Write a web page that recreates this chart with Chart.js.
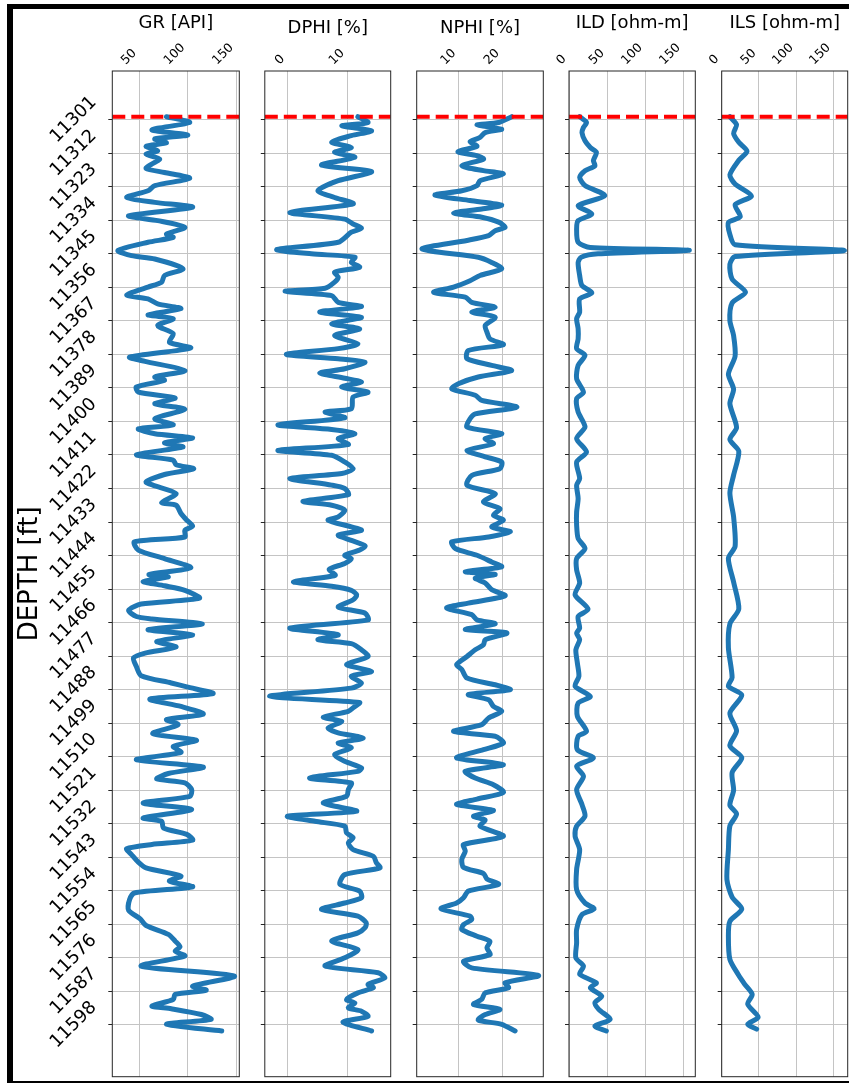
<!DOCTYPE html>
<html>
<head>
<meta charset="utf-8">
<script src="https://cdn.jsdelivr.net/npm/chart.js@4.4.1/dist/chart.umd.min.js"></script>
<style>
  html, body { margin: 0; padding: 0; background: #fff; }
  body { width: 849px; height: 1084px; position: relative; overflow: hidden; }
  #frame { position: absolute; left: 7px; top: 4px; width: 900px; height: 1072px;
           border-left: 6px solid #000; border-top: 5px solid #000; border-bottom: 2px solid #000; }
  canvas.track { position: absolute; left: 0; top: 0; }
</style>
</head>
<body>
<div id="frame"></div>
<canvas id="gr" class="track" width="849" height="1084"></canvas>
<canvas id="dphi" class="track" width="849" height="1084"></canvas>
<canvas id="nphi" class="track" width="849" height="1084"></canvas>
<canvas id="ild" class="track" width="849" height="1084"></canvas>
<canvas id="ils" class="track" width="849" height="1084"></canvas>
<script>
// ---- data ----
const trackTitles = ['GR [API]', 'DPHI [%]', 'NPHI [%]', 'ILD [ohm-m]', 'ILS [ohm-m]'];
const depthTitle = 'DEPTH [ft]';
const depthTicks = [11301, 11312, 11323, 11334, 11345, 11356, 11367, 11378, 11389, 11400,
  11411, 11422, 11433, 11444, 11455, 11466, 11477, 11488, 11499, 11510, 11521, 11532,
  11543, 11554, 11565, 11576, 11587, 11598];
const markerDepth = 11300;

const grTicks = [50, 100, 150];
const dphiTicks = [0, 10];
const nphiTicks = [10, 20];
const ildTicks = [0, 50, 100, 150];
const ilsTicks = [0, 50, 100, 150];

const grDepth = [11300.0, 11301.9, 11304.3, 11306.0, 11307.3, 11308.6, 11309.7, 11311.2, 11312.3, 11313.9,
  11315.5, 11317.0, 11318.3, 11320.2, 11322.6, 11324.3, 11326.5, 11328.1, 11329.7, 11332.5,
  11334.1, 11336.3, 11338.5, 11339.6, 11341.2, 11343.9, 11345.6, 11346.7, 11349.9, 11352.1,
  11354.3, 11355.9, 11358.5, 11359.8, 11361.4, 11363.0, 11365.0, 11366.3, 11368.5, 11371.2,
  11374.0, 11375.9, 11378.9, 11380.3, 11383.3, 11385.4, 11386.5, 11388.7, 11390.4, 11392.3,
  11394.2, 11396.0, 11399.1, 11401.1, 11402.4, 11404.0, 11405.4, 11407.0, 11408.4, 11410.9,
  11412.7, 11414.2, 11415.5, 11417.4, 11419.8, 11420.9, 11423.7, 11426.6, 11427.5, 11430.2,
  11432.4, 11434.3, 11435.7, 11437.9, 11439.5, 11442.2, 11445.0, 11448.0, 11450.2, 11451.0,
  11452.5, 11453.9, 11455.4, 11458.0, 11459.9, 11462.0, 11464.0, 11464.8, 11466.5, 11468.3,
  11470.0, 11472.2, 11474.0, 11476.0, 11477.6, 11480.4, 11483.4, 11485.8, 11487.1, 11489.3,
  11491.1, 11493.5, 11496.0, 11497.8, 11499.5, 11502.4, 11504.6, 11506.6, 11508.6, 11511.0,
  11513.4, 11515.5, 11517.3, 11518.6, 11520.8, 11523.0, 11525.2, 11527.3, 11530.1, 11531.2,
  11533.4, 11535.5, 11537.4, 11538.8, 11540.2, 11542.1, 11544.6, 11546.5, 11549.2, 11550.8,
  11552.7, 11554.7, 11556.9, 11560.4, 11563.2, 11565.4, 11568.3, 11570.5, 11572.4, 11573.8,
  11575.4, 11578.7, 11582.0, 11585.3, 11586.6, 11588.0, 11589.7, 11591.8, 11592.7, 11594.6,
  11596.2, 11597.8, 11600.0];
const grValues = [78, 102, 63, 100, 66, 78, 57, 69, 57, 71,
  63, 57, 76, 102, 66, 59, 37, 66, 105, 39,
  69, 97, 78, 85, 59, 28, 42, 66, 95, 76,
  73, 59, 37, 59, 69, 93, 59, 85, 69, 85,
  81, 103, 40, 56, 97, 66, 76, 47, 49, 87,
  66, 97, 66, 85, 49, 66, 105, 76, 95, 47,
  85, 88, 106, 76, 57, 64, 88, 73, 88, 93,
  99, 105, 97, 97, 45, 49, 76, 103, 60, 80,
  54, 76, 97, 112, 52, 39, 47, 63, 115, 59,
  105, 68, 88, 56, 44, 47, 52, 83, 99, 126,
  61, 93, 116, 78, 90, 64, 109, 85, 93, 47,
  116, 80, 68, 97, 104, 102, 54, 104, 54, 73,
  75, 99, 105, 63, 37, 42, 49, 57, 93, 81,
  105, 45, 40, 39, 51, 57, 80, 87, 92, 87,
  97, 52, 148, 105, 119, 87, 85, 63, 83, 114,
  124, 78, 135];

const dphiDepth = [11300.0, 11301.9, 11303.0, 11304.6, 11306.2, 11308.4, 11310.1, 11311.7, 11313.3, 11315.9,
  11318.0, 11321.0, 11324.3, 11326.5, 11328.6, 11331.4, 11333.6, 11335.2, 11336.6, 11337.9,
  11341.2, 11343.6, 11345.0, 11346.1, 11347.8, 11349.4, 11351.0, 11352.7, 11354.3, 11356.3,
  11357.3, 11358.7, 11360.9, 11362.3, 11364.1, 11365.8, 11368.0, 11369.6, 11371.8, 11374.5,
  11376.1, 11378.0, 11379.4, 11380.5, 11382.7, 11384.1, 11385.8, 11387.1, 11388.7, 11390.4,
  11392.0, 11395.8, 11396.9, 11398.8, 11401.1, 11402.6, 11404.0, 11405.6, 11407.6, 11409.5,
  11411.1, 11413.3, 11415.5, 11417.1, 11418.7, 11420.9, 11422.0, 11424.0, 11426.2, 11427.5,
  11429.1, 11431.3, 11432.4, 11434.6, 11435.7, 11437.3, 11439.0, 11440.8, 11442.2, 11443.9,
  11445.0, 11446.6, 11448.5, 11450.5, 11452.6, 11454.1, 11455.4, 11456.9, 11458.5, 11460.9,
  11462.9, 11465.1, 11467.8, 11470.0, 11471.6, 11472.9, 11474.9, 11477.1, 11479.8, 11482.0,
  11483.6, 11485.8, 11487.5, 11490.2, 11492.2, 11493.5, 11495.1, 11497.0, 11498.4, 11500.6,
  11502.2, 11503.9, 11505.5, 11507.1, 11509.3, 11511.5, 11513.7, 11514.8, 11517.0, 11518.6,
  11520.8, 11523.0, 11525.2, 11527.9, 11529.5, 11531.2, 11532.8, 11535.0, 11536.6, 11538.3,
  11540.5, 11542.7, 11544.8, 11546.5, 11548.7, 11551.9, 11554.1, 11556.3, 11558.0, 11560.1,
  11562.3, 11564.5, 11566.1, 11567.8, 11570.5, 11573.3, 11576.0, 11578.7, 11580.9, 11582.6,
  11584.7, 11585.8, 11587.5, 11589.7, 11590.8, 11592.4, 11593.5, 11595.2, 11597.1, 11600.0];
const dphiValues = [11.8, 13.5, 9.1, 14.1, 10.7, 7.4, 10.7, 7.9, 11.3, 5.7,
  14.1, 8.5, 5.1, 7.9, 11.0, 0.4, 9.6, 11.0, 12.4, 10.7,
  8.5, -1.8, 4.0, 11.3, 10.7, 12.1, 7.9, 8.5, 7.9, 6.3,
  -0.4, 7.4, 8.5, 12.4, 5.4, 12.4, 7.4, 12.1, 7.9, 11.8,
  8.5, -0.2, 8.5, 13.0, 9.6, 5.4, 9.6, 12.4, 9.1, 13.5,
  11.0, 10.7, 6.3, 9.6, -1.6, 7.4, 11.3, 8.5, 10.2, -1.6,
  7.4, 9.6, 11.0, 9.1, 0.4, 7.4, 9.6, 10.2, 2.6, 7.4,
  9.6, 8.5, 6.8, 10.7, 12.4, 8.5, 10.7, 13.0, 12.1, 9.6,
  10.7, 9.6, 7.0, 8.0, 1.0, 7.4, 10.7, 11.6, 11.0, 8.5,
  13.0, 13.5, 0.4, 8.5, 5.1, 10.7, 12.4, 13.5, 9.9, 14.1,
  10.7, 12.4, 10.7, -3.0, 12.1, 11.3, 10.2, 6.0, 9.1, 6.8,
  8.5, 12.7, 8.5, 10.7, 7.9, 9.6, 12.4, 11.8, 3.7, 10.7,
  10.2, 9.9, 6.0, 11.6, 0.0, 4.6, 9.6, 9.9, 11.0, 10.2,
  11.0, 14.4, 14.9, 15.5, 9.6, 8.8, 12.1, 12.4, 9.6, 5.7,
  11.8, 13.2, 13.0, 11.8, 7.4, 11.8, 9.6, 6.3, 15.2, 16.3,
  13.5, 14.4, 11.8, 9.9, 11.3, 10.2, 12.4, 13.5, 9.3, 14.1];

const nphiDepth = [11300.0, 11301.9, 11302.7, 11304.1, 11305.2, 11306.8, 11308.2, 11309.7, 11311.5, 11312.8,
  11313.9, 11316.1, 11317.7, 11318.8, 11321.0, 11322.6, 11324.3, 11325.7, 11327.5, 11329.0,
  11330.3, 11331.6, 11333.0, 11334.6, 11336.3, 11337.4, 11339.0, 11340.6, 11343.4, 11346.1,
  11347.8, 11349.9, 11352.1, 11353.8, 11355.9, 11357.6, 11359.2, 11360.9, 11362.5, 11364.1,
  11365.8, 11368.5, 11370.7, 11372.9, 11374.8, 11376.7, 11379.4, 11381.6, 11383.3, 11385.4,
  11387.6, 11389.3, 11391.4, 11393.1, 11395.3, 11397.5, 11399.1, 11401.8, 11404.0, 11405.6,
  11407.3, 11409.5, 11411.6, 11413.3, 11415.5, 11417.7, 11420.9, 11423.7, 11426.4, 11428.6,
  11430.8, 11432.4, 11434.6, 11436.2, 11437.9, 11439.5, 11441.7, 11443.9, 11446.1, 11447.7,
  11449.3, 11450.2, 11451.4, 11453.0, 11455.2, 11457.2, 11459.6, 11461.2, 11463.4, 11465.1,
  11466.4, 11468.3, 11469.4, 11471.6, 11473.3, 11474.9, 11477.1, 11479.8, 11481.4, 11484.2,
  11486.4, 11488.0, 11489.6, 11491.3, 11493.5, 11495.1, 11497.3, 11499.5, 11501.7, 11503.3,
  11505.5, 11507.7, 11510.4, 11512.6, 11514.8, 11517.0, 11519.2, 11521.7, 11523.9, 11525.7,
  11527.6, 11529.5, 11530.8, 11532.8, 11536.1, 11538.8, 11541.0, 11543.7, 11546.3, 11548.3,
  11550.1, 11551.9, 11554.1, 11556.3, 11558.0, 11559.9, 11562.3, 11563.4, 11565.1, 11566.7,
  11568.9, 11570.6, 11572.7, 11574.9, 11577.1, 11579.3, 11581.8, 11584.2, 11585.8, 11587.5,
  11589.6, 11591.3, 11592.9, 11594.6, 11596.4, 11597.8, 11600.0];
const nphiValues = [22.2, 19.2, 14.2, 19.9, 16.1, 14.9, 12.6, 14.2, 9.8, 14.2,
  15.7, 10.7, 15.7, 20.3, 14.9, 14.2, 10.7, 4.5, 12.6, 19.9,
  15.3, 8.8, 15.3, 19.2, 20.7, 18.4, 16.9, 11.9, 1.5, 14.5,
  17.6, 19.9, 14.9, 12.6, 8.8, 4.2, 11.5, 13.0, 18.4, 13.0,
  18.4, 16.1, 16.5, 17.2, 20.3, 12.2, 11.9, 17.6, 22.2, 14.5,
  9.9, 8.4, 13.8, 15.3, 23.4, 13.8, 12.6, 11.9, 19.9, 16.1,
  18.0, 11.9, 16.1, 19.9, 19.5, 13.0, 11.9, 18.4, 15.7, 19.5,
  18.0, 20.3, 17.6, 21.9, 16.9, 8.4, 9.2, 14.2, 17.6, 19.9,
  11.5, 18.4, 13.8, 16.1, 17.6, 20.7, 12.2, 7.2, 13.0, 14.2,
  18.4, 11.5, 21.1, 16.1, 15.7, 13.8, 11.9, 9.5, 10.7, 11.9,
  18.4, 21.9, 12.2, 16.9, 18.0, 19.9, 16.9, 15.3, 8.8, 18.4,
  20.3, 15.7, 9.5, 20.3, 11.5, 13.8, 18.0, 20.3, 14.2, 9.5,
  18.0, 13.4, 16.1, 14.9, 20.3, 11.1, 11.5, 10.7, 11.1, 15.7,
  16.5, 19.2, 12.2, 11.1, 9.5, 5.9, 12.6, 13.0, 11.1, 10.7,
  14.2, 17.2, 16.5, 17.2, 11.1, 13.0, 28.4, 20.7, 21.5, 16.1,
  15.3, 13.4, 19.5, 16.1, 14.5, 19.9, 23.0];

const ildDepth = [11300.0, 11301.9, 11303.5, 11305.2, 11307.9, 11310.1, 11311.7, 11314.4, 11316.1, 11317.7,
  11319.9, 11322.6, 11325.9, 11329.2, 11331.9, 11334.1, 11336.8, 11341.2, 11342.9, 11343.8,
  11345.0, 11346.1, 11347.8, 11352.1, 11355.4, 11357.8, 11359.8, 11364.1, 11366.3, 11369.6,
  11372.9, 11376.1, 11378.3, 11381.6, 11386.0, 11390.4, 11392.5, 11396.9, 11401.8, 11405.6,
  11410.0, 11413.3, 11418.7, 11420.9, 11425.3, 11429.7, 11434.0, 11438.4, 11441.7, 11445.0,
  11448.7, 11453.0, 11456.9, 11461.6, 11464.0, 11467.8, 11469.4, 11471.6, 11474.9, 11479.3,
  11483.6, 11486.9, 11490.2, 11492.4, 11496.7, 11501.7, 11503.3, 11507.7, 11510.4, 11513.1,
  11516.4, 11520.8, 11525.7, 11529.5, 11532.8, 11536.1, 11540.5, 11547.0, 11553.6, 11558.0,
  11559.9, 11561.8, 11566.7, 11571.1, 11576.0, 11578.7, 11581.4, 11584.2, 11585.8, 11588.6,
  11590.7, 11592.9, 11596.2, 11598.4, 11600.0];
const ildValues = [14, 23, 19, 17, 21, 28, 36, 32, 34, 21,
  14, 21, 47, 12, 30, 12, 10, 12, 28, 158,
  38, 16, 12, 14, 17, 30, 14, 14, 10, 12,
  12, 10, 21, 12, 10, 19, 10, 12, 21, 10,
  23, 10, 14, 10, 12, 10, 10, 12, 21, 10,
  10, 14, 8, 25, 12, 14, 10, 14, 9, 11,
  13, 8, 28, 12, 11, 23, 12, 11, 32, 10,
  19, 10, 17, 21, 10, 8, 14, 10, 10, 21,
  33, 17, 10, 10, 9, 19, 14, 36, 28, 43,
  34, 39, 54, 34, 49];

const ilsDepth = [11300.0, 11302.6, 11305.5, 11308.4, 11311.3, 11314.3, 11319.1, 11322.1, 11326.0, 11328.9,
  11332.8, 11334.7, 11338.6, 11342.0, 11343.9, 11345.9, 11348.4, 11353.3, 11357.6, 11361.1,
  11366.9, 11371.8, 11378.6, 11384.5, 11389.4, 11394.2, 11402.0, 11405.9, 11409.8, 11417.6,
  11423.5, 11431.3, 11441.0, 11444.9, 11452.7, 11461.5, 11466.4, 11474.2, 11484.0, 11486.9,
  11489.8, 11495.7, 11501.5, 11506.4, 11510.3, 11515.2, 11521.0, 11525.9, 11528.8, 11532.7,
  11540.5, 11550.3, 11556.1, 11560.0, 11564.0, 11568.8, 11576.5, 11581.4, 11584.7, 11588.0,
  11591.2, 11595.5, 11597.8, 11599.4];
const ilsValues = [11, 20, 16, 23, 34, 23, 11, 18, 40, 18,
  25, 9, 11, 18, 165, 18, 11, 14, 32, 14,
  11, 16, 18, 9, 16, 11, 20, 11, 23, 16,
  11, 16, 18, 9, 16, 23, 11, 9, 14, 9,
  27, 11, 20, 11, 27, 14, 16, 11, 20, 11,
  9, 7, 14, 27, 11, 9, 11, 22, 31, 41,
  35, 49, 35, 47];

// ---- page geometry ----
const PAGE_W = 849, PAGE_H = 1084;
const AREA_TOP = 71, AREA_BOTTOM = 1076.7;
const DEPTH_MIN = 11285, DEPTH_MAX = 11615;
const TITLE_SIZE = 18;
const GRID = '#c4c4c4';

Chart.defaults.font.family = "'DejaVu Sans', sans-serif";
Chart.defaults.color = '#000';

const tracks = [
  { canvas: 'gr',   title: trackTitles[0], depth: grDepth,   values: grValues,   ticks: grTicks,   min: 22.2, max: 153.1, left: 112.3, right: 239.3, titleY: 23 },
  { canvas: 'dphi', title: trackTitles[1], depth: dphiDepth, values: dphiValues, ticks: dphiTicks, min: -3.8, max: 17.3,  left: 264.8, right: 390.7, titleY: 28 },
  { canvas: 'nphi', title: trackTitles[2], depth: nphiDepth, values: nphiValues, ticks: nphiTicks, min: 0.3,  max: 29.5,  left: 416.7, right: 543.3, titleY: 28 },
  { canvas: 'ild',  title: trackTitles[3], depth: ildDepth,  values: ildValues,  ticks: ildTicks,  min: 0,    max: 165.8, left: 569.0, right: 695.3, titleY: 23 },
  { canvas: 'ils',  title: trackTitles[4], depth: ilsDepth,  values: ilsValues,  ticks: ilsTicks,  min: 0,    max: 169.4, left: 721.7, right: 847.7, titleY: 23 }
];

// box round each track, drawn over the curves like matplotlib spines
const spines = {
  id: 'spines',
  afterDatasetsDraw(chart) {
    const a = chart.chartArea, ctx = chart.ctx;
    ctx.save();
    ctx.strokeStyle = '#262626';
    ctx.lineWidth = 1;
    ctx.strokeRect(a.left, a.top, a.right - a.left, a.bottom - a.top);
    ctx.restore();
  }
};

// rotated top labels end at their tick instead of starting there
const topLabels = {
  id: 'topLabels',
  beforeDraw(chart) {
    const ctx = chart.ctx;
    chart.scales.x.getLabelItems().forEach(it => {
      if (it._moved) return;
      ctx.font = it.font.string;
      const w = ctx.measureText(String(it.label)).width;
      it.options.translation[0] += 6 - w * Math.SQRT1_2;
      it._moved = true;
    });
  }
};

function noOverhang(s) {
  s.paddingTop = 0; s.paddingBottom = 0; s.paddingLeft = 0; s.paddingRight = 0;
}

tracks.forEach((t, i) => {
  const first = i === 0;
  const yWidth = first ? 100 : 8;
  const titleLH = TITLE_SIZE * 1.2;
  const titlePadTop = t.titleY - titleLH / 2;
  const xAxisH = AREA_TOP - (titlePadTop + titleLH);
  const curve = t.depth.map((d, k) => ({ x: t.values[k], y: d }));
  const marker = [{ x: t.min, y: markerDepth }, { x: t.max, y: markerDepth }];

  new Chart(document.getElementById(t.canvas), {
    type: 'line',
    data: {
      datasets: [
        { data: marker, borderColor: '#ff0000', borderWidth: 4, borderDash: [13, 6],
          pointRadius: 0, pointHitRadius: 0, tension: 0, order: 0 },
        { data: curve, borderColor: '#1f77b4', borderWidth: 5, pointRadius: 0, pointHitRadius: 0,
          tension: 0.25, borderJoinStyle: 'round', borderCapStyle: 'round', order: 1 }
      ]
    },
    options: {
      indexAxis: 'y',
      responsive: false,
      animation: false,
      devicePixelRatio: 1,
      events: [],
      layout: { padding: { left: t.left - yWidth, right: PAGE_W - t.right, top: 0, bottom: PAGE_H - AREA_BOTTOM } },
      plugins: {
        legend: { display: false },
        tooltip: { enabled: false },
        title: {
          display: true, text: t.title, fullSize: false, color: '#000',
          font: { size: TITLE_SIZE, weight: 'normal', lineHeight: 1.2 },
          padding: { top: titlePadTop, bottom: 0 }
        }
      },
      scales: {
        x: {
          type: 'linear', position: 'top', min: t.min, max: t.max,
          afterBuildTicks: s => { s.ticks = t.ticks.map(v => ({ value: v })); },
          afterFit: s => { s.height = xAxisH; noOverhang(s); },
          grid: { color: GRID, lineWidth: 1, drawTicks: false },
          border: { display: false },
          ticks: { minRotation: 45, maxRotation: 45, padding: 3, autoSkip: false,
                   font: { size: 12.5 }, color: '#000', callback: v => String(v) }
        },
        y: {
          type: 'linear', position: 'left', reverse: true, min: DEPTH_MIN, max: DEPTH_MAX,
          afterBuildTicks: s => { s.ticks = depthTicks.map(v => ({ value: v })); },
          afterFit: s => { s.width = yWidth; noOverhang(s); },
          grid: { color: GRID, lineWidth: 1, drawTicks: true, tickLength: 4, tickColor: '#262626', tickWidth: 1 },
          border: { display: false },
          ticks: { display: first, minRotation: 45, maxRotation: 45, crossAlign: 'center', padding: 6,
                   autoSkip: false, font: { size: 18 }, color: '#000', callback: v => String(v) },
          title: { display: first, text: depthTitle, color: '#000',
                   font: { size: 26, lineHeight: 1 }, padding: { top: 5, bottom: 0 } }
        }
      }
    },
    plugins: [spines, topLabels]
  });
});
</script>
</body>
</html>
